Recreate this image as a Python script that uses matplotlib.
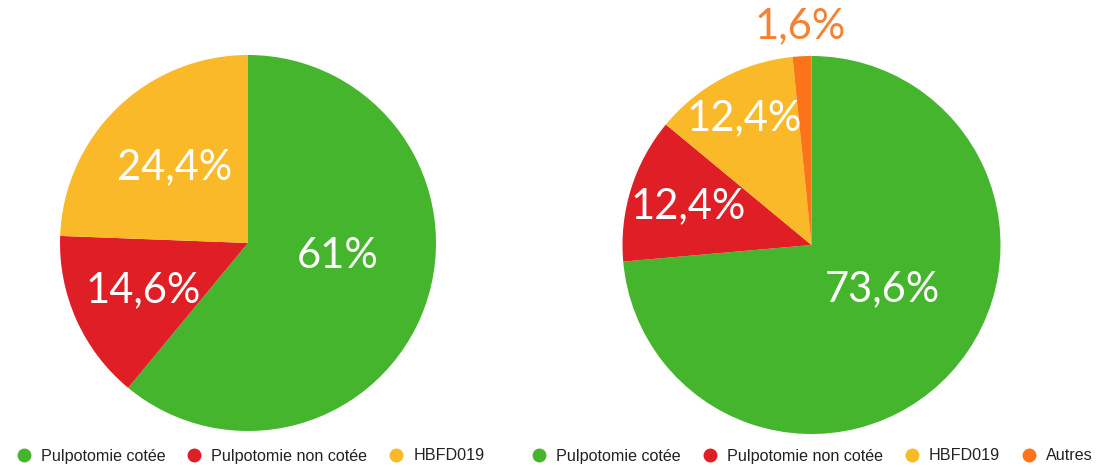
import matplotlib.pyplot as plt
from matplotlib.lines import Line2D
import numpy as np

# data
cats_left = ['Pulpotomie cotée', 'Pulpotomie non cotée', 'HBFD019']
vals_left = [61, 14.6, 24.4]
labels_left = ['61%', '14,6%', '24,4%']

cats_right = ['Pulpotomie cotée', 'Pulpotomie non cotée', 'HBFD019', 'Autres']
vals_right = [73.6, 12.4, 12.4, 1.6]
labels_right = ['73,6%', '12,4%', '12,4%', '1,6%']

colors = ['#46B52E', '#E01E26', '#F9B928', '#FC7418']

W, H = 1109, 467
fig = plt.figure(figsize=(W / 100, H / 100), dpi=100)
ax = fig.add_axes([0, 0, 1, 1])


def draw_pie(vals, labels, cols, center, radius, dists, shifts, label_colors):
    wedges, _ = ax.pie(vals, colors=cols, startangle=90, counterclock=False,
                       center=center, radius=radius, frame=True,
                       wedgeprops=dict(linewidth=0))
    for w, lab, d, s, c in zip(wedges, labels, dists, shifts, label_colors):
        # label sits along the wedge bisector, nudged a bit
        mid = np.deg2rad((w.theta1 + w.theta2) / 2 + s)
        x = center[0] + d * radius * np.cos(mid)
        y = center[1] + d * radius * np.sin(mid)
        ax.text(x, y, lab, ha='center', va='center', fontsize=30,
                color=c, family='Lato', fontweight='normal')


draw_pie(vals_left, labels_left, colors[:3], (248, H - 243), 188,
         [0.48, 0.61, 0.56], [11.5, 0, 0], ['white'] * 3)
draw_pie(vals_right, labels_right, colors, (811.5, H - 245), 189,
         [0.44, 0.685, 0.76, 1.16], [10.5, 0, 0, 0], ['white'] * 3 + ['#F58132'])
ax.set_xlim(0, W)
ax.set_ylim(0, H)
ax.set_aspect('equal')
ax.axis('off')


def handles(n):
    return [Line2D([], [], marker='o', linestyle='none', markersize=9,
                   markerfacecolor=colors[i], markeredgecolor=colors[i]) for i in range(n)]


leg_kw = dict(ncol=4, frameon=False, handletextpad=0.55,
              columnspacing=1.3, handlelength=1.0, borderaxespad=0,
              labelcolor='#222222',
              prop={'family': 'Liberation Sans', 'size': 11.6})
fig.legend(handles(3), cats_left, loc='center', bbox_to_anchor=(250 / W, 1 - 456 / H), **leg_kw)
fig.legend(handles(4), cats_right, loc='center', bbox_to_anchor=(812 / W, 1 - 456 / H), **leg_kw)

fig.savefig('out.png', dpi=100)
